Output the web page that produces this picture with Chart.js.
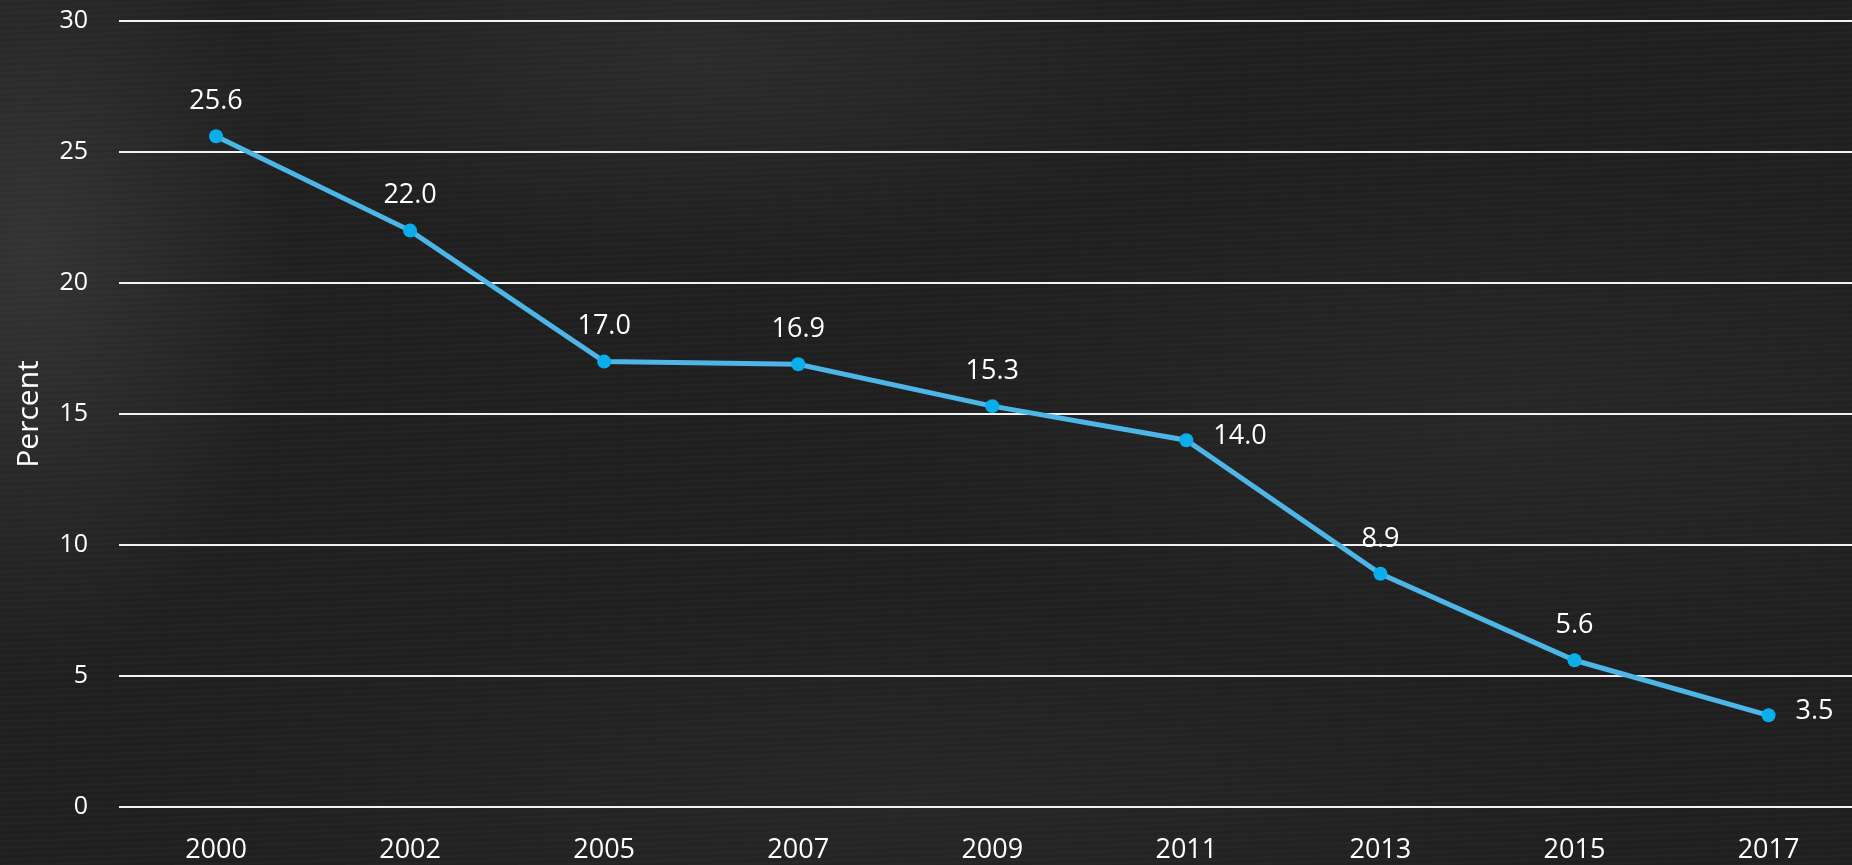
<!DOCTYPE html>
<html>
<head>
<meta charset="utf-8">
<script src="https://cdn.jsdelivr.net/npm/chart.js@4"></script>
<style>
  html, body { margin: 0; padding: 0; }
  body {
    width: 1852px; height: 865px; overflow: hidden;
    background-color: #202020;
    background-image:
      radial-gradient(ellipse 260px 420px at 30px 250px, rgba(90,90,90,0.35), rgba(90,90,90,0) 100%),
      radial-gradient(ellipse 500px 200px at 700px 60px, rgba(80,80,80,0.25), rgba(80,80,80,0) 100%),
      radial-gradient(ellipse 600px 250px at 1500px 420px, rgba(70,70,70,0.2), rgba(70,70,70,0) 100%),
      radial-gradient(ellipse 700px 200px at 900px 800px, rgba(60,60,60,0.25), rgba(60,60,60,0) 100%),
      repeating-linear-gradient(178deg, rgba(255,255,255,0.015) 0px, rgba(255,255,255,0.015) 2px, rgba(0,0,0,0.02) 3px, rgba(0,0,0,0.02) 6px);
  }
  #wrap { position: absolute; left: 0; top: 0; width: 1852px; height: 865px; }
  canvas { display: block; }
</style>
</head>
<body>
<div id="wrap"><canvas id="c" width="1852" height="865"></canvas></div>
<script>
// 数据
const years = ['2000', '2002', '2005', '2007', '2009', '2011', '2013', '2015', '2017'];
const percent = [25.6, 22.0, 17.0, 16.9, 15.3, 14.0, 8.9, 5.6, 3.5];
const yTicks = [0, 5, 10, 15, 20, 25, 30];
// 标签放右侧的点
const rightLabels = [5, 8];

const FONT = '"Open Sans", "DejaVu Sans", sans-serif';

// 数值标签（无 datalabels 插件，自己画）
const valueLabels = {
  id: 'valueLabels',
  afterDatasetsDraw(chart) {
    const ctx = chart.ctx;
    const meta = chart.getDatasetMeta(0);
    ctx.save();
    ctx.fillStyle = '#ffffff';
    ctx.font = '27px ' + FONT;
    ctx.textBaseline = 'middle';
    meta.data.forEach(function(pt, i) {
      const txt = percent[i].toFixed(1);
      if (rightLabels.indexOf(i) >= 0) {
        ctx.textAlign = 'left';
        ctx.fillText(txt, pt.x + 27, pt.y - 4);
      } else {
        ctx.textAlign = 'center';
        ctx.fillText(txt, pt.x, pt.y - 35);
      }
    });
    ctx.restore();
  }
};

new Chart(document.getElementById('c'), {
  type: 'line',
  data: {
    datasets: [{
      label: 'Percent',
      data: percent.map(function(v, i) { return { x: i, y: v }; }),
      borderColor: '#4db6e6',
      borderWidth: 5,
      pointBackgroundColor: '#0aaeea',
      pointBorderColor: '#0aaeea',
      pointRadius: 7,
      pointBorderWidth: 0,
      tension: 0,
      fill: false
    }]
  },
  options: {
    responsive: false,
    animation: false,
    devicePixelRatio: 1,
    layout: { autoPadding: false, padding: 0 },
    plugins: {
      legend: { display: false },
      tooltip: { enabled: false }
    },
    scales: {
      x: {
        type: 'linear',
        min: -0.5,
        max: 8.43,
        grid: { display: false, drawTicks: false },
        border: { display: false },
        afterBuildTicks: function(scale) {
          scale.ticks = years.map(function(y, i) { return { value: i }; });
        },
        afterFit: function(scale) {
          scale.height = 58;
          scale.paddingLeft = 0;
          scale.paddingRight = 0;
        },
        ticks: {
          color: '#ffffff',
          font: { family: FONT, size: 27 },
          padding: 27,
          maxRotation: 0,
          autoSkip: false,
          callback: function(v) { return years[v] || ''; }
        }
      },
      y: {
        min: 0,
        max: 30,
        afterBuildTicks: function(scale) {
          scale.ticks = yTicks.map(function(v) { return { value: v }; });
        },
        afterFit: function(scale) {
          scale.width = 119;
          scale.paddingTop = 21;
          scale.paddingBottom = 0;
        },
        grid: { color: '#f2f2f2', lineWidth: 2, drawTicks: false },
        border: { display: false },
        title: {
          display: true,
          text: 'Percent',
          color: '#ffffff',
          font: { family: FONT, size: 30 },
          padding: { top: 11, bottom: 0 }
        },
        ticks: {
          color: '#ffffff',
          font: { family: FONT, size: 25 },
          padding: 31
        }
      }
    }
  },
  plugins: [valueLabels]
});
</script>
</body>
</html>
